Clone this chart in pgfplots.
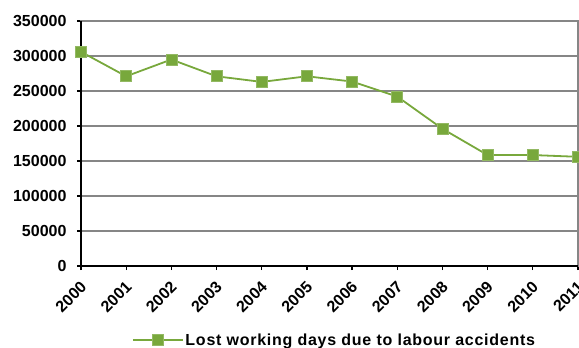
\documentclass[border=0pt]{standalone}
\usepackage{fontspec}
\setmainfont{Liberation Sans}
\newfontfamily\legendfont[LetterSpace=4.6]{Liberation Sans}
\usepackage{pgfplots}
\pgfplotsset{compat=1.18}
\definecolor{lineGreen}{RGB}{120,168,60}
\definecolor{gridGray}{RGB}{134,134,134}
\begin{document}
\begin{tikzpicture}
\begin{axis}[
  name=ax,
  scale only axis,
  width=497pt, height=245pt,
  xmin=2000, xmax=2011,
  ymin=0, ymax=350000,
  xtick={2000,2001,...,2011},
  ytick={0,50000,...,350000},
  xtick pos=left, ytick pos=left,
  tick align=outside,
  major tick length=4pt,
  tick style={black, line width=1.2pt},
  axis line style={draw=gridGray, line width=1.4pt},
  ymajorgrids,
  grid style={gridGray, line width=1.4pt},
  /pgf/number format/assume math mode=true,
  /pgf/number format/1000 sep={},
  scaled y ticks=false,
  yticklabel style={/pgf/number format/fixed, font=\fontsize{16}{16}\selectfont\bfseries, xshift=-7pt},
  xticklabel style={font=\fontsize{16}{16}\selectfont\bfseries, xshift=5pt, yshift=-12pt, rotate=45, anchor=east},
  clip=false,
  legend style={at={(0.51,-0.302)}, anchor=center, draw=none, fill=none,
    font=\legendfont\fontsize{16}{16}\selectfont\bfseries, inner sep=0pt,
    nodes={inner sep=2pt}},
  legend image code/.code={
    \draw[#1, mark=none] (0cm,0cm) -- (1.75cm,0cm);
    \draw[#1, only marks] plot coordinates {(0.875cm,0cm)};
  },
]
\draw[black, line width=1.8pt] (rel axis cs:0,1) -- (rel axis cs:0,0) -- (rel axis cs:1,0);
\addplot[color=lineGreen, line width=1.8pt, mark=square*, mark size=5.5pt,
  mark options={fill=lineGreen, draw=lineGreen!80!white, line width=0.6pt}]
  coordinates {
    (2000,306000) (2001,271000) (2002,295000) (2003,271000)
    (2004,263000) (2005,271000) (2006,263500) (2007,242000)
    (2008,196000) (2009,158500) (2010,158500) (2011,156000)
  };
\addlegendentry{Lost working days due to labour accidents}
\end{axis}
\pgfresetboundingbox
\path ([shift={(-81pt,-82pt)}]ax.south west) rectangle ([shift={(1pt,21pt)}]ax.north east);
\end{tikzpicture}
\end{document}
